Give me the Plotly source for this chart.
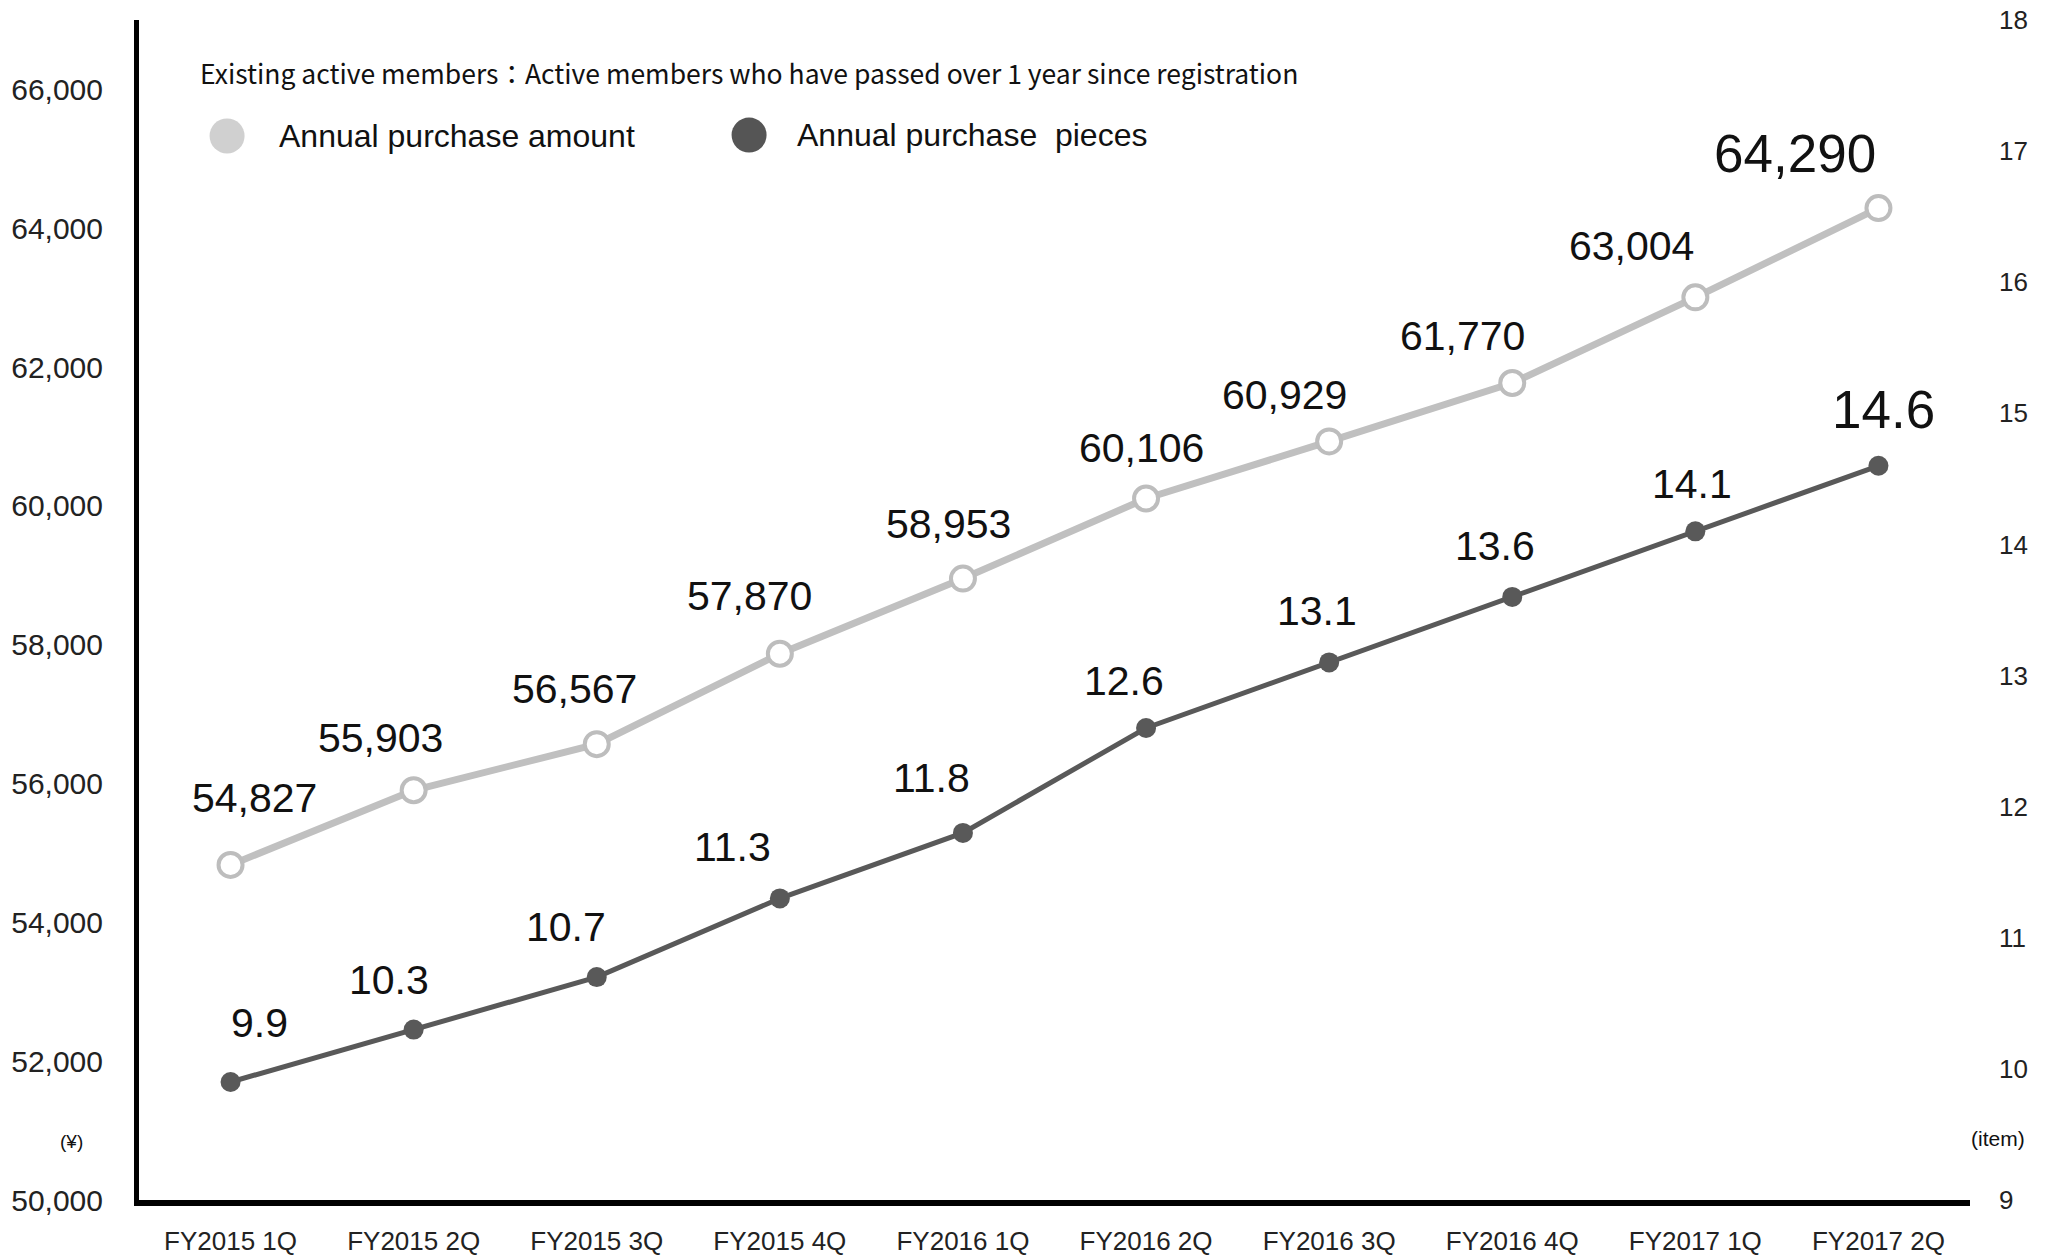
import plotly.graph_objects as go

# Quarterly figures for existing active members
quarters = ["FY2015 1Q", "FY2015 2Q", "FY2015 3Q", "FY2015 4Q", "FY2016 1Q",
            "FY2016 2Q", "FY2016 3Q", "FY2016 4Q", "FY2017 1Q", "FY2017 2Q"]
purchase_amount = [54827, 55903, 56567, 57870, 58953, 60106, 60929, 61770, 63004, 64290]
purchase_pieces = [9.9, 10.3, 10.7, 11.3, 11.8, 12.6, 13.1, 13.6, 14.1, 14.6]

left_ticks = [50000, 52000, 54000, 56000, 58000, 60000, 62000, 64000, 66000]
right_ticks = [9, 10, 11, 12, 13, 14, 15, 16, 17, 18]

# label offsets (pixels) relative to each marker
amount_label_shift = [(24, -67), (-33, -52), (-22, -55), (-30, -58), (-14, -55),
                      (-5, -51), (-45, -46), (-50, -47), (-64, -51), (-83, -55)]
pieces_label_shift = [(29, -59), (-25, -50), (-31, -50), (-47, -51), (-31, -55),
                      (-22, -47), (-12, -51), (-17, -51), (-3, -47), (5, -56)]

FONT = "Liberation Sans, Arial, Helvetica, sans-serif"
TXT = "#111111"
AMOUNT_LINE = "#c0c0c0"
PIECES_LINE = "#595959"

fig = go.Figure()

fig.add_trace(go.Scatter(
    x=list(range(len(quarters))), y=purchase_amount, mode="lines+markers",
    line=dict(color=AMOUNT_LINE, width=7),
    marker=dict(size=24, color="white", line=dict(color="#bdbdbd", width=4)),
    yaxis="y", showlegend=False, hoverinfo="skip",
))
fig.add_trace(go.Scatter(
    x=list(range(len(quarters))), y=purchase_pieces, mode="lines+markers",
    line=dict(color=PIECES_LINE, width=5),
    marker=dict(size=20, color=PIECES_LINE),
    yaxis="y2", showlegend=False, hoverinfo="skip",
))

annotations = []
last = len(quarters) - 1
for i, v in enumerate(purchase_amount):
    dx, dy = amount_label_shift[i]
    annotations.append(dict(
        x=i, y=v, xref="x", yref="y", text=f"{v:,}", showarrow=False,
        xshift=dx, yshift=-dy, xanchor="center", yanchor="middle",
        font=dict(family=FONT, size=53 if i == last else 41, color=TXT),
    ))
for i, v in enumerate(purchase_pieces):
    dx, dy = pieces_label_shift[i]
    annotations.append(dict(
        x=i, y=v, xref="x", yref="y2", text=f"{v:.1f}", showarrow=False,
        xshift=dx, yshift=-dy, xanchor="center", yanchor="middle",
        font=dict(family=FONT, size=53 if i == last else 41, color=TXT),
    ))

# header note, legend text and unit labels
annotations += [
    dict(x=0.0322, y=0.9559, xref="paper", yref="paper", xanchor="left", yanchor="middle",
         text="Existing active members：Active members who have passed over 1 year since registration",
         showarrow=False, font=dict(family="Noto Sans CJK JP, " + FONT, size=26.5, color=TXT)),
    dict(x=0.0754, y=0.9017, xref="paper", yref="paper", xanchor="left", yanchor="middle",
         text="Annual purchase amount", showarrow=False,
         font=dict(family=FONT, size=32, color=TXT)),
    dict(x=0.3583, y=0.9025, xref="paper", yref="paper", xanchor="left", yanchor="middle",
         text="Annual purchase&nbsp; pieces", showarrow=False,
         font=dict(family=FONT, size=32, color=TXT)),
    dict(x=-0.0366, y=0.050, xref="paper", yref="paper", xanchor="center", yanchor="middle",
         text="(¥)", showarrow=False, font=dict(family=FONT, size=19, color=TXT)),
    dict(x=1.0153, y=0.0517, xref="paper", yref="paper", xanchor="center", yanchor="middle",
         text="(item)", showarrow=False, font=dict(family=FONT, size=21, color=TXT)),
]

shapes = [
    dict(type="circle", xref="paper", yref="paper", xsizemode="pixel", ysizemode="pixel",
         xanchor=0.0481, yanchor=0.9017, x0=-17.5, x1=17.5, y0=-17.5, y1=17.5,
         fillcolor="#d0d0d0", line=dict(width=0)),
    dict(type="circle", xref="paper", yref="paper", xsizemode="pixel", ysizemode="pixel",
         xanchor=0.3332, yanchor=0.9025, x0=-17.5, x1=17.5, y0=-17.5, y1=17.5,
         fillcolor="#555555", line=dict(width=0)),
]

fig.update_layout(
    width=2057, height=1255,
    margin=dict(l=139, r=87, t=20, b=55),
    paper_bgcolor="white", plot_bgcolor="white",
    font=dict(family=FONT, color=TXT),
    xaxis=dict(
        range=[-0.5, len(quarters) - 0.5], tickmode="array",
        tickvals=list(range(len(quarters))), ticktext=quarters, automargin=False,
        showgrid=False, zeroline=False, showline=True, linecolor="black", linewidth=6,
        ticks="", ticklabelstandoff=13, tickfont=dict(size=26, color="#222222"),
    ),
    yaxis=dict(
        range=[50000, 67000], tickmode="array", tickvals=left_ticks,
        ticktext=[f"{t:,}" for t in left_ticks], automargin=False,
        showgrid=False, zeroline=False, showline=True, linecolor="black", linewidth=5,
        ticks="", ticklabelstandoff=25, tickfont=dict(size=30, color="#222222"),
    ),
    yaxis2=dict(
        range=[9, 18], overlaying="y", side="right", tickmode="array",
        tickvals=right_ticks, ticktext=[str(t) for t in right_ticks], automargin=False,
        showgrid=False, zeroline=False, showline=False,
        ticks="", ticklabelstandoff=28, tickfont=dict(size=26, color="#222222"),
    ),
    annotations=annotations,
    shapes=shapes,
)

fig.write_html("out.html")
